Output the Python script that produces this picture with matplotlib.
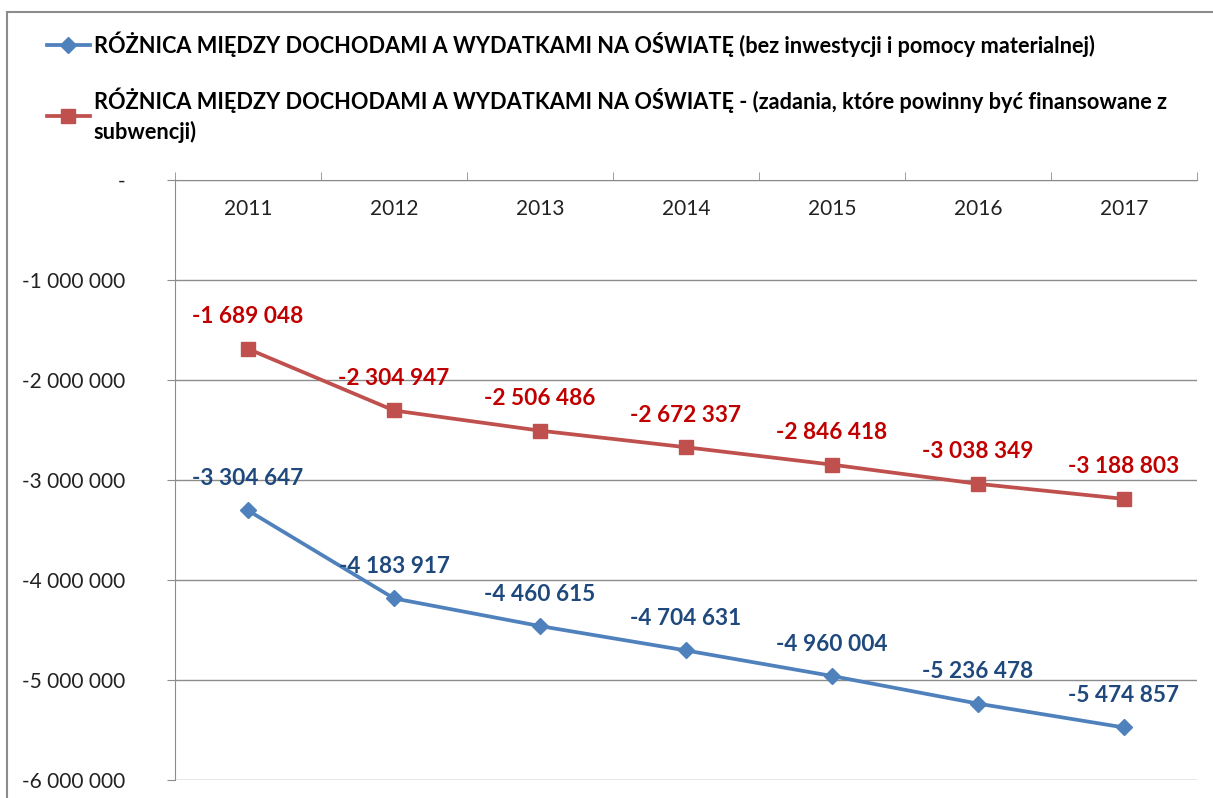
import matplotlib.pyplot as plt
from matplotlib.patches import Rectangle
from matplotlib.ticker import FixedLocator

years = ['2011', '2012', '2013', '2014', '2015', '2016', '2017']
roznica_bez_inw = [-3304647, -4183917, -4460615, -4704631, -4960004, -5236478, -5474857]
roznica_subw = [-1689048, -2304947, -2506486, -2672337, -2846418, -3038349, -3188803]
y_ticks = [0, -1000000, -2000000, -3000000, -4000000, -5000000, -6000000]

label_bez = 'RÓŻNICA MIĘDZY DOCHODAMI A WYDATKAMI NA OŚWIATĘ (bez inwestycji i pomocy materialnej)'
label_subw = ('RÓŻNICA MIĘDZY DOCHODAMI A WYDATKAMI NA OŚWIATĘ - (zadania, które powinny być finansowane z\n'
              'subwencji)')

plt.rcParams['font.family'] = ['Lato', 'DejaVu Sans']

blue = '#4F81BD'
red = '#C0504D'
blue_txt = '#1F497D'
red_txt = '#C00000'
grid_c = '#8C8C8C'


def fmt(v):
    s = '{:,}'.format(abs(v)).replace(',', ' ')
    return ('-' + s) if v < 0 else s


fig = plt.figure(figsize=(12.13, 7.98), dpi=100)
fig.patches.append(Rectangle((7 / 1213, -0.01), 1.1, 1 - 12 / 798 + 0.01, transform=fig.transFigure,
                             fill=False, edgecolor='#8C8C8C', lw=1.5))

ax = fig.add_axes([175 / 1213, 18 / 798, 1022 / 1213, 600 / 798])
x = list(range(len(years)))

ax.plot(x, roznica_bez_inw, color=blue, lw=2.7, marker='D', ms=8, zorder=3, label=label_bez)
ax.plot(x, roznica_subw, color=red, lw=2.7, marker='s', ms=10, zorder=3, label=label_subw)

for xi, v in zip(x, roznica_bez_inw):
    ax.annotate(fmt(v), (xi, v), xytext=(0, 23), textcoords='offset points', ha='center', va='center',
                color=blue_txt, fontsize=16.3, fontweight='bold')
for xi, v in zip(x, roznica_subw):
    ax.annotate(fmt(v), (xi, v), xytext=(0, 23), textcoords='offset points', ha='center', va='center',
                color=red_txt, fontsize=16.3, fontweight='bold')

ax.set_xlim(-0.5, len(years) - 0.5)
ax.set_ylim(-6000000, 0)
ax.set_yticks(y_ticks)
ax.set_yticklabels(['-' if t == 0 else fmt(t) for t in y_ticks], fontsize=15, color='#222222')
ax.tick_params(axis='y', length=6, color=grid_c, pad=30)
ax.set_xticks([])
ax.xaxis.set_minor_locator(FixedLocator([i - 0.5 for i in range(len(years) + 1)]))
ax.xaxis.set_ticks_position('top')
ax.tick_params(axis='x', which='minor', direction='out', length=6, color=grid_c, top=True, bottom=False)

for i, yr in enumerate(years):
    ax.text(i, -290000, yr, ha='center', va='center', fontsize=15, color='#222222')

ax.grid(axis='y', color=grid_c, lw=1)
for s in ['right', 'bottom']:
    ax.spines[s].set_visible(False)
for s in ['left', 'top']:
    ax.spines[s].set_color(grid_c)

leg = fig.legend(loc='upper left', bbox_to_anchor=(27 / 1213, 1 - 12 / 798), frameon=False,
                 prop={'weight': 'bold', 'size': 15.7}, handlelength=2.0, handletextpad=0.15,
                 labelspacing=1.4)
for t in leg.get_texts():
    t.set_linespacing(1.45)

fig.savefig('out.png', dpi=100)
